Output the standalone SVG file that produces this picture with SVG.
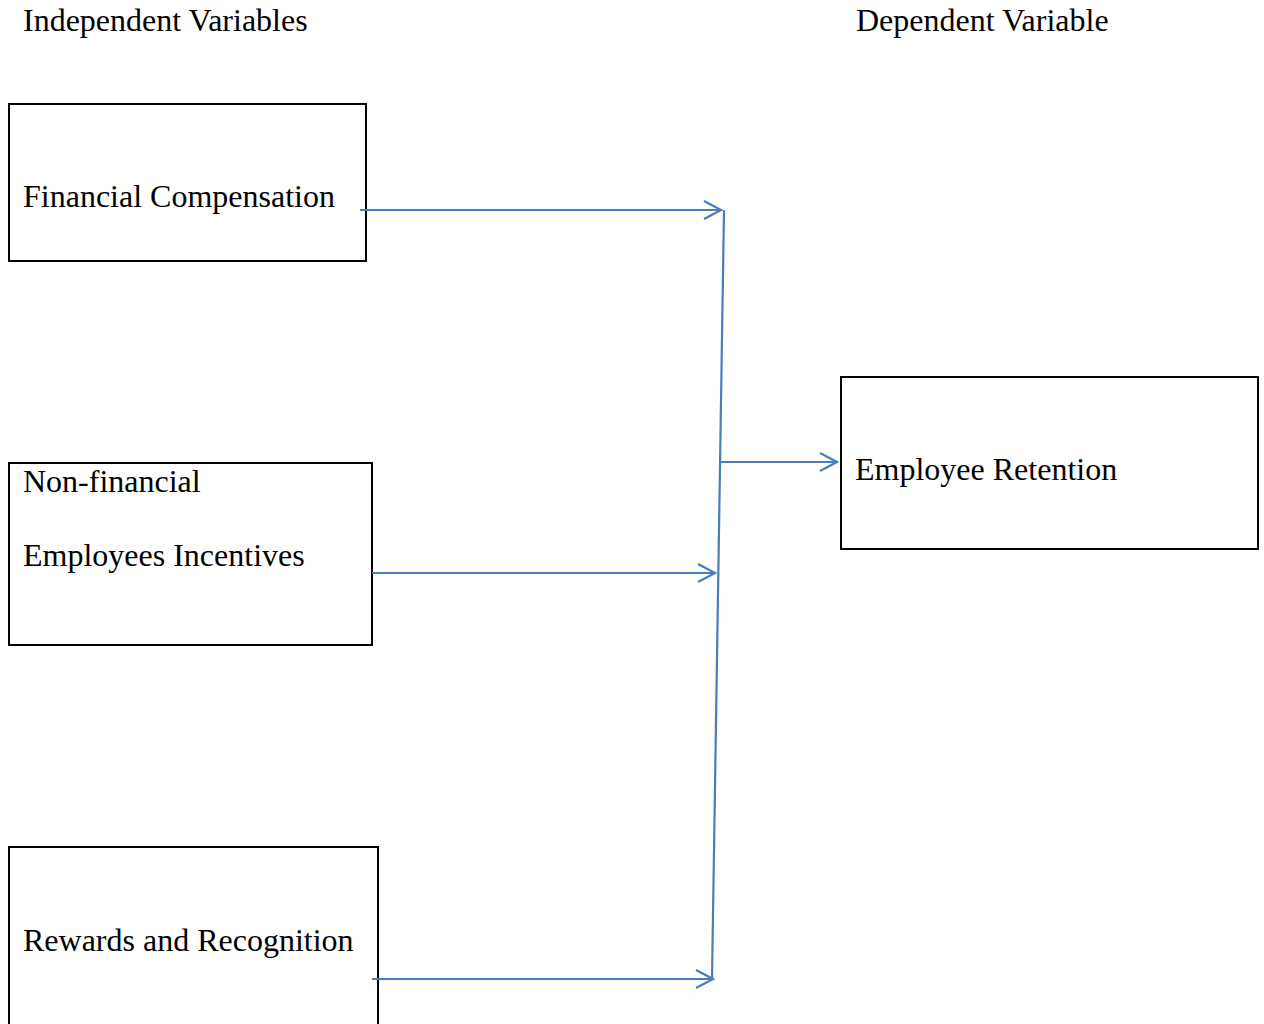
<svg xmlns="http://www.w3.org/2000/svg" width="1264" height="1024" viewBox="0 0 1264 1024">
<style>
.box{fill:#fff;stroke:#000;stroke-width:2}
.t{font-family:"Liberation Serif","Times New Roman",serif;font-size:32px;fill:#000}
.c{stroke:#4a7ebb;stroke-width:2.2;fill:none}
</style>
<defs>
<marker id="ah" markerWidth="20" markerHeight="24" viewBox="-18 -12 20 24" refX="0" refY="0" markerUnits="userSpaceOnUse" orient="auto">
<path d="M-17,-9 L0,0 L-17,9" fill="none" stroke="#4a7ebb" stroke-width="2.2"/>
</marker>
</defs>
<rect width="1264" height="1024" fill="#fff"/>
<text class="t" x="23" y="31">Independent Variables</text>
<text class="t" x="856" y="31">Dependent Variable</text>
<g id="n1"><rect class="box" x="9" y="104" width="357" height="157"/><text class="t" x="23" y="207">Financial Compensation</text></g>
<g id="n2"><rect class="box" x="9" y="463" width="363" height="182"/><text class="t" x="23" y="492">Non-financial</text><text class="t" x="23" y="566">Employees Incentives</text></g>
<g id="n3"><rect class="box" x="9" y="847" width="369" height="190"/><text class="t" x="23" y="951">Rewards and Recognition</text></g>
<g id="n4"><rect class="box" x="841" y="377" width="417" height="172"/><text class="t" x="855" y="480">Employee Retention</text></g>
<g id="connectors">
<line class="c" x1="360" y1="210" x2="721" y2="210" marker-end="url(#ah)"/>
<line class="c" x1="372" y1="573" x2="715" y2="573" marker-end="url(#ah)"/>
<line class="c" x1="372" y1="979" x2="713" y2="979" marker-end="url(#ah)"/>
<line class="c" x1="724" y1="210" x2="712" y2="979"/>
<line class="c" x1="720" y1="462" x2="837" y2="462" marker-end="url(#ah)"/>
</g>
</svg>
